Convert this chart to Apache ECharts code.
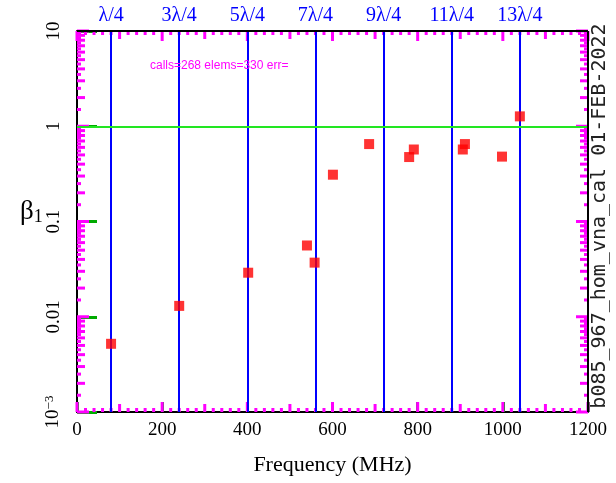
<!DOCTYPE html>
<html><head><meta charset="utf-8">
<script src="https://cdn.jsdelivr.net/npm/echarts@6/dist/echarts.min.js"></script>
<style>html,body{margin:0;padding:0;background:#fff}#c{width:616px;height:483px}</style>
</head><body><div id="c"></div>
<script>
// ---- data ----
const freqMHz = [80, 240, 402, 540, 558, 601, 686, 791, 780, 911, 906, 998, 1040];
const beta1   = [0.0052, 0.013, 0.029, 0.056, 0.037, 0.31, 0.65, 0.57, 0.475, 0.65, 0.57, 0.48, 1.27];
const quarterWaveFreqs  = [80, 240, 400, 560, 720, 880, 1040];
const quarterWaveLabels = ['λ/4', '3λ/4', '5λ/4', '7λ/4', '9λ/4', '11λ/4', '13λ/4'];
const xMajorTicks = [0, 200, 400, 600, 800, 1000, 1200];
const yDecades = [0.001, 0.01, 0.1, 1, 10];
const yDecadeLabels = ['{b|10}{s|−3}', '0.01', '0.1', '1', '10'];
const referenceLevel = 1;
const sideText = 'b085_967_hom_vna_cal 01-FEB-2022';

const X_MIN = 0, X_MAX = 1200, Y_MIN = 0.001, Y_MAX = 10;

const xTicksByClass = [[], [], []];
for (let v = X_MIN; v <= X_MAX; v += 20) {
  xTicksByClass[v % 200 === 0 ? 2 : (v % 100 === 0 ? 1 : 0)].push(v);
}
const yTicksByClass = [[], [], yDecades.slice()];
for (let d = -3; d <= 0; d++) {
  const p = Math.pow(10, d);
  for (let k = 2; k <= 9; k++) yTicksByClass[1].push(+(k * p).toPrecision(6));
  for (let k = 1; k <= 9; k++) yTicksByClass[0].push(+((k + 0.5) * p).toPrecision(6));
}
const xTickLen = [4, 8, 10];
const yTickLen = [4, 8, 12];

const serif = 'Liberation Serif';
const black = '#000';
let renderCalls = 0;

function tickSeries(values, side, len, width) {
  const isX = side === 'bottom' || side === 'top';
  return {
    type: 'custom', xAxisIndex: 0, yAxisIndex: 0, z: 4, clip: false,
    data: values.map(v => isX ? [v, 1] : [600, v]),
    renderItem: function (params, api) {
      renderCalls++;
      let c, x2, y2;
      if (side === 'bottom') { c = api.coord([api.value(0), Y_MIN]); x2 = c[0]; y2 = c[1] + len; }
      else if (side === 'top') { c = api.coord([api.value(0), Y_MAX]); x2 = c[0]; y2 = c[1] + len; }
      else if (side === 'left') { c = api.coord([X_MIN, api.value(1)]); x2 = c[0] + len; y2 = c[1]; }
      else { c = api.coord([X_MAX, api.value(1)]); x2 = c[0] + len; y2 = c[1]; }
      return {type: 'line', shape: {x1: c[0], y1: c[1], x2: x2, y2: y2},
        style: {stroke: '#ff00ff', lineWidth: 3}};
    }
  };
}
const tickSeriesList = [];
[0, 1, 2].forEach(cls => {
  const w = cls === 0 ? 1.2 : 1.5;
  tickSeriesList.push(tickSeries(xTicksByClass[cls], 'bottom', -xTickLen[cls], w));
  tickSeriesList.push(tickSeries(xTicksByClass[cls], 'top', xTickLen[cls], w));
  tickSeriesList.push(tickSeries(yTicksByClass[cls], 'left', yTickLen[cls], w));
  tickSeriesList.push(tickSeries(yTicksByClass[cls], 'right', -yTickLen[cls], w));
});

const blueLine = {color: '#0000ff', width: 2, type: 'solid'};
const frameLine = {color: black, width: 2, type: 'solid'};

const chart = echarts.init(document.getElementById('c'), null, {renderer: 'canvas'});
const option = {
  animation: false,
  backgroundColor: '#fff',
  grid: {left: 77, right: 28, top: 31, bottom: 71},
  xAxis: [
    {type: 'value', min: X_MIN, max: X_MAX, interval: 200,
      axisLine: {show: true, onZero: false, lineStyle: {color: black, width: 2}},
      axisTick: {show: true, inside: true, length: 10, lineStyle: {color: '#00aa00', width: 3}}, splitLine: {show: false},
      axisLabel: {fontFamily: serif, fontSize: 19, color: black, margin: 9,
        formatter: v => String(v)},
      name: 'Frequency (MHz)', nameLocation: 'middle', nameGap: 42,
      nameTextStyle: {fontFamily: serif, fontSize: 22, color: black}}
  ],
  yAxis: [
    {type: 'log', logBase: 10, min: Y_MIN, max: Y_MAX, interval: 1,
      axisLine: {show: true, onZero: false, lineStyle: {color: black, width: 2}},
      axisTick: {show: true, inside: true, length: 20, lineStyle: {color: '#00aa00', width: 3}}, splitLine: {show: false},
      axisLabel: {rotate: 90, margin: 13, fontFamily: serif, fontSize: 19, color: black,
        formatter: v => yDecadeLabels[Math.round(Math.log10(v)) + 3] || '',
        rich: {b: {fontFamily: serif, fontSize: 19, color: black},
               s: {fontFamily: serif, fontSize: 13, color: black, verticalAlign: 'top', padding: [0, 0, 8, 0]}}}}
  ],
  series: [
    {type: 'line', xAxisIndex: 0, yAxisIndex: 0, data: [], z: 1,
      markLine: {symbol: 'none', animation: false, silent: true,
        label: {show: false},
        data: quarterWaveFreqs.map((f, i) => ({xAxis: f, lineStyle: blueLine,
            label: {show: true, position: 'end', distance: 5, formatter: quarterWaveLabels[i],
              color: '#0000ff', fontFamily: serif, fontSize: 20}}))
          .concat([
            {yAxis: referenceLevel, lineStyle: {color: '#22e622', width: 2, type: 'solid'}},
            {yAxis: Y_MAX, lineStyle: frameLine},
            {xAxis: X_MAX, lineStyle: frameLine}
          ])}}
  ].concat(tickSeriesList).concat([
    {type: 'scatter', xAxisIndex: 0, yAxisIndex: 0, z: 5, symbol: 'rect', symbolSize: 10,
      itemStyle: {color: '#ff0000'},
      data: freqMHz.map((f, i) => [f, beta1[i]])}
  ]),
  graphic: [
    {type: 'text', left: 20, top: 198, silent: true,
      style: {text: '{g|β}{n|1}', rich: {
        g: {fontFamily: serif, fontSize: 27, fill: black},
        n: {fontFamily: serif, fontSize: 18, fill: black, verticalAlign: 'bottom', padding: [12, 0, 0, 0]}}}},
    {type: 'text', x: 600, y: 216, rotation: Math.PI / 2, silent: true,
      style: {text: sideText, fontFamily: 'DejaVu Sans Mono', fontSize: 20, fill: '#222',
        align: 'center', verticalAlign: 'middle'}}
  ]
};
let err = '';
try { chart.setOption(option); } catch (e) { err = String(e); }
const dl = chart.getZr().storage.getDisplayList(true);
const info = 'calls=' + renderCalls + ' elems=' + dl.length + ' err=' + err;
chart.setOption({graphic: [{type: 'text', id: 'dbg', left: 150, top: 60, z: 100, style: {text: info, fontSize: 12, fill: '#f0f'}}]});
</script>
</body></html>
